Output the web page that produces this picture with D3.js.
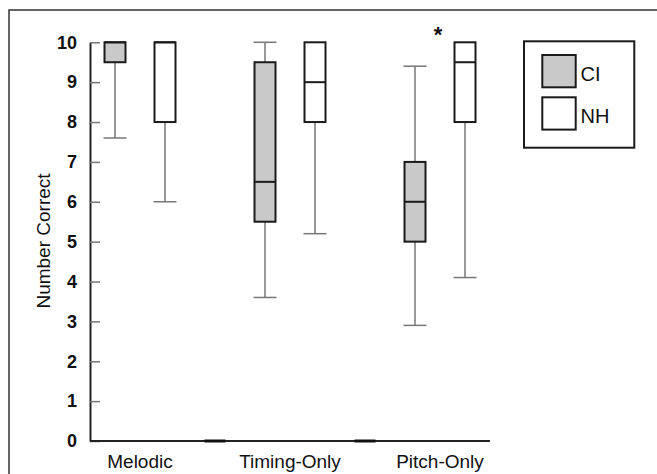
<!DOCTYPE html>
<html><head><meta charset="utf-8">
<script src="https://cdn.jsdelivr.net/npm/d3@7"></script>
<style>body{margin:0;background:#fff}svg{display:block}</style>
</head><body>
<svg id="c" width="657" height="474"></svg>
<script>
const categories = ["Melodic", "Timing-Only", "Pitch-Only"];
const groups = ["CI", "NH"];
const ciMin = [7.6, 3.6, 2.9];
const ciQ1 = [9.5, 5.5, 5.0];
const ciMed = [10, 6.5, 6.0];
const ciQ3 = [10, 9.5, 7.0];
const ciMax = [10, 10, 9.4];
const nhMin = [6.0, 5.2, 4.1];
const nhQ1 = [8, 8, 8];
const nhMed = [10, 9, 9.5];
const nhQ3 = [10, 10, 10];
const nhMax = [10, 10, 10];
const yTicks = [0,1,2,3,4,5,6,7,8,9,10];
const significant = ["Pitch-Only"];
const axisTitle = "Number Correct";

const svg = d3.select("#c");
const font = "'Liberation Sans', Arial, Helvetica, sans-serif";

// outer frame
svg.append("rect").attr("x",9).attr("y",10).attr("width",700).attr("height",500)
  .attr("fill","none").attr("stroke","#333").attr("stroke-width",1.5);

const y = d3.scaleLinear().domain([0,10]).range([441, 42.3]);

// slots: each category gets CI, NH, then a spacer
const slots = [];
categories.forEach((c,i)=>{ groups.forEach(g=>slots.push(c+"|"+g)); if(i<categories.length-1) slots.push(c+"|gap"); });
const x = d3.scaleBand().domain(slots).range([90, 490]).paddingInner(0.58).paddingOuter(0.29);

const series = {
  CI: {min:ciMin,q1:ciQ1,med:ciMed,q3:ciQ3,max:ciMax,fill:"#c9c9c9"},
  NH: {min:nhMin,q1:nhQ1,med:nhMed,q3:nhQ3,max:nhMax,fill:"#ffffff"}
};

// y axis
const yAxis = svg.append("g").attr("transform","translate(90,0)")
  .call(d3.axisLeft(y).tickValues(yTicks).tickSize(-10).tickSizeOuter(0).tickPadding(13));
yAxis.select(".domain").attr("stroke","#222").attr("stroke-width",2);
yAxis.selectAll(".tick line").attr("stroke","#777").attr("stroke-width",1.5);
yAxis.selectAll(".tick text").attr("font-family",font).attr("font-size",18).attr("font-weight","bold").attr("fill","#111");

// x axis line
svg.append("line").attr("x1",90).attr("x2",490).attr("y1",y(0)).attr("y2",y(0))
  .attr("stroke","#222").attr("stroke-width",2);

// spacer (empty) boxes drawn at zero
slots.filter(s=>s.endsWith("|gap")).forEach(s=>{
  svg.append("line").attr("x1",x(s)).attr("x2",x(s)+x.bandwidth())
    .attr("y1",y(0)).attr("y2",y(0)).attr("stroke","#111").attr("stroke-width",3);
});

// boxes
categories.forEach((c,i)=>{
  groups.forEach(g=>{
    const s = series[g];
    const x0 = x(c+"|"+g), w = x.bandwidth(), cx = x0 + w/2;
    const capW = w + 2;
    const gg = svg.append("g");
    gg.append("line").attr("x1",cx).attr("x2",cx).attr("y1",y(s.q1[i])).attr("y2",y(s.min[i]))
      .attr("stroke","#777").attr("stroke-width",1.5);
    gg.append("line").attr("x1",cx).attr("x2",cx).attr("y1",y(s.q3[i])).attr("y2",y(s.max[i]))
      .attr("stroke","#777").attr("stroke-width",1.5);
    gg.append("line").attr("x1",cx-capW/2).attr("x2",cx+capW/2).attr("y1",y(s.min[i])).attr("y2",y(s.min[i]))
      .attr("stroke","#777").attr("stroke-width",1.5);
    if (s.max[i] > s.q3[i]) {
      gg.append("line").attr("x1",cx-capW/2).attr("x2",cx+capW/2).attr("y1",y(s.max[i])).attr("y2",y(s.max[i]))
        .attr("stroke","#777").attr("stroke-width",1.5);
    }
    gg.append("rect").attr("x",x0).attr("width",w).attr("y",y(s.q3[i])).attr("height",y(s.q1[i])-y(s.q3[i]))
      .attr("fill",s.fill).attr("stroke","#1a1a1a").attr("stroke-width",2);
    gg.append("line").attr("x1",x0).attr("x2",x0+w).attr("y1",y(s.med[i])).attr("y2",y(s.med[i]))
      .attr("stroke","#1a1a1a").attr("stroke-width",2);
  });
  const cxCat = (x(c+"|CI") + x(c+"|NH") + x.bandwidth())/2;
  svg.append("text").attr("x",cxCat).attr("y",468).attr("text-anchor","middle")
    .attr("font-family",font).attr("font-size",19).attr("fill","#111").text(c);
  if (significant.includes(c)) {
    svg.append("text").attr("x",cxCat-2).attr("y",42).attr("text-anchor","middle")
      .attr("font-family",font).attr("font-size",22).attr("font-weight","bold").attr("fill","#111").text("*");
  }
});

// y title
svg.append("text").attr("transform","translate(50,241) rotate(-90)").attr("text-anchor","middle")
  .attr("font-family",font).attr("font-size",19).attr("fill","#111").text(axisTitle);

// legend
const lg = svg.append("g");
lg.append("rect").attr("x",524).attr("y",41.3).attr("width",110.3).attr("height",106.4)
  .attr("fill","#fff").attr("stroke","#1a1a1a").attr("stroke-width",2);
groups.forEach((g,k)=>{
  const yy = 55 + k*42.3;
  lg.append("rect").attr("x",542.3).attr("y",yy).attr("width",33.4).attr("height",32.3)
    .attr("fill",series[g].fill).attr("stroke","#1a1a1a").attr("stroke-width",2);
  lg.append("text").attr("x",580.5).attr("y",yy+25.5).attr("font-family",font).attr("font-size",20)
    .attr("fill","#111").text(g);
});
</script>
</body></html>
